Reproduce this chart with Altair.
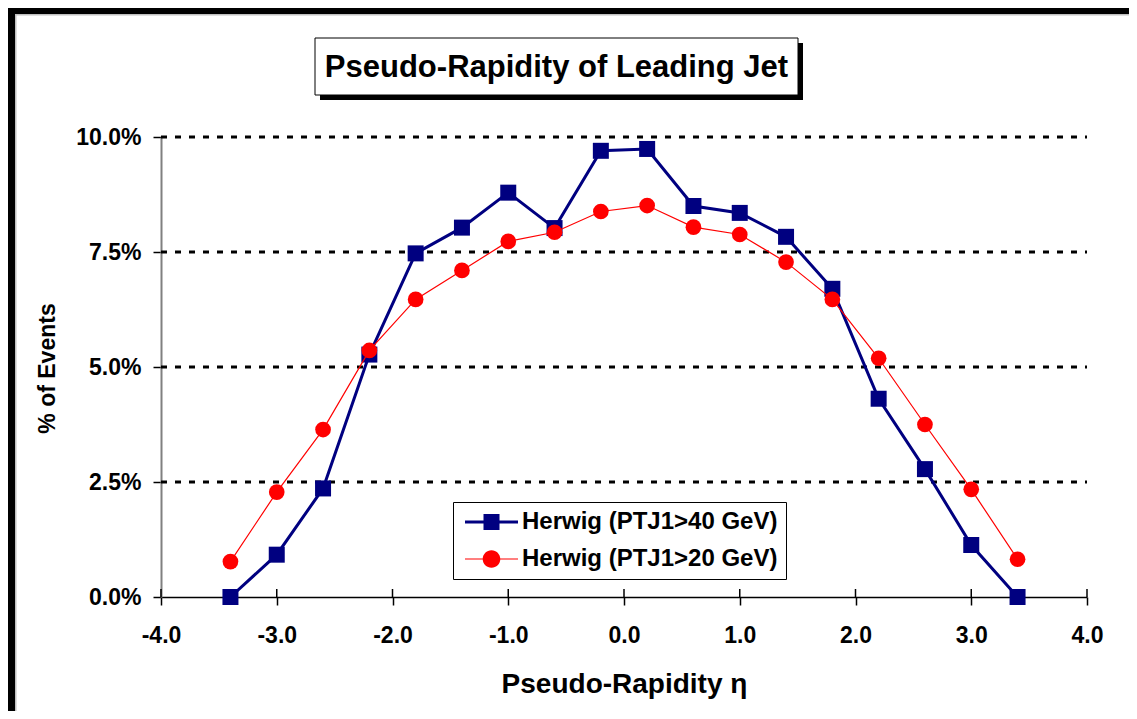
import altair as alt
import pandas as pd

# ---------------- data ----------------
ETA = [-3.4, -3.0, -2.6, -2.2, -1.8, -1.4, -1.0, -0.6, -0.2,
       0.2, 0.6, 1.0, 1.4, 1.8, 2.2, 2.6, 3.0, 3.4]
PT40 = [0.00, 0.92, 2.36, 5.27, 7.47, 8.03, 8.79, 8.02, 9.70,
        9.74, 8.50, 8.35, 7.83, 6.70, 4.31, 2.78, 1.13, 0.00]
PT20 = [0.77, 2.28, 3.64, 5.36, 6.47, 7.10, 7.73, 7.93, 8.38,
        8.51, 8.04, 7.88, 7.28, 6.47, 5.19, 3.75, 2.34, 0.82]
SERIES = ["Herwig (PTJ1>40 GeV)", "Herwig (PTJ1>20 GeV)"]
COLORS = ["#000080", "#FF0000"]
X_TICKS = [-4, -3, -2, -1, 0, 1, 2, 3, 4]
Y_TICKS = [0, 2.5, 5, 7.5, 10]
GRID = [2.5, 5, 7.5, 10]
TITLE = "Pseudo-Rapidity of Leading Jet"
X_TITLE = "Pseudo-Rapidity η"
Y_TITLE = "% of Events"

# ---------------- layout ----------------
W, H = 926, 460
PL, PT, PR, PB = 153, 129, 42, 114
FONT = "Liberation Sans"

df = pd.DataFrame({
    "eta": ETA + ETA,
    "pct": PT40 + PT20,
    "series": [SERIES[0]] * len(ETA) + [SERIES[1]] * len(ETA),
})
grid_df = pd.DataFrame({"g": GRID})
xt_df = pd.DataFrame({"t": X_TICKS})
one = pd.DataFrame({"k": [0]})

xscale = alt.Scale(domain=[-4, 4], nice=False, zero=False)
yscale = alt.Scale(domain=[0, 10], nice=False)

x_axis = alt.Axis(
    values=X_TICKS, title=X_TITLE,
    labelExpr="(datum.value < 0 ? '-' : '') + format(abs(datum.value), '.1f')",
    labelFont=FONT, labelFontSize=23, labelFontWeight="bold", labelColor="black",
    labelPadding=19, labelFlush=False, labelOverlap=False,
    tickSize=8, tickColor="black", tickWidth=1.5,
    domainColor="black", domainWidth=1.5, grid=False,
    titleFont=FONT, titleFontSize=28, titleFontWeight="bold", titleColor="black",
    titleY=95, titleX=W / 2, titleBaseline="alphabetic", titleAlign="center",
)
y_axis = alt.Axis(
    values=Y_TICKS, title=Y_TITLE,
    labelExpr="format(datum.value, '.1f') + '%'",
    labelFont=FONT, labelFontSize=23, labelFontWeight="bold", labelColor="black",
    labelPadding=12, tickSize=8, tickColor="black", tickWidth=1.5,
    domainColor="#808080", domainWidth=2, grid=False,
    titleFont=FONT, titleFontSize=23, titleFontWeight="bold", titleColor="black",
    titleAngle=270, titleX=-114, titleY=231, titleAlign="center", titleBaseline="middle",
)

X = alt.X("eta:Q", scale=xscale, axis=x_axis)
Y = alt.Y("pct:Q", scale=yscale, axis=y_axis)

# ---------------- decorations ----------------
def rect(x, x2, y, y2, **kw):
    return alt.Chart(one).mark_rect(**kw).encode(
        x=alt.value(x), x2=alt.value(x2), y=alt.value(y), y2=alt.value(y2))

frame_left = rect(-PL, -PL + 7, -PT, H + PB, color="black")
frame_top = rect(-PL, W + PR, -PT, -PT + 6, color="black")
frame_left_g = rect(-PL + 7, -PL + 8.5, -PT + 6, H + PB, color="#c0c0c0")
frame_top_g = rect(-PL + 7, W + PR, -PT + 6, -PT + 7.5, color="#c0c0c0")

tb_shadow = rect(159, 642, -94, -37, color="black")
tb_box = rect(154, 637, -99, -42, fill="white", stroke="black", strokeWidth=1)
tb_text = alt.Chart(one).mark_text(
    font=FONT, fontSize=31, fontWeight="bold", color="black",
    align="center", baseline="alphabetic",
).encode(x=alt.value(395.5), y=alt.value(-60), text=alt.value(TITLE))

grid = alt.Chart(grid_df).mark_rule(
    color="black", strokeWidth=3, strokeDash=[6, 8]
).encode(y=alt.Y("g:Q", scale=yscale, axis=y_axis), x=alt.value(0), x2=alt.value(W))

in_ticks = alt.Chart(xt_df).mark_rule(color="black", strokeWidth=1.5).encode(
    x=alt.X("t:Q", scale=xscale, axis=x_axis), y=alt.value(H - 8), y2=alt.value(H))

# ---------------- data layers ----------------
blue = alt.Chart(df).transform_filter(alt.datum.series == SERIES[0])
red = alt.Chart(df).transform_filter(alt.datum.series == SERIES[1])

blue_line = blue.mark_line(color=COLORS[0], strokeWidth=3).encode(x=X, y=Y)
blue_pts = blue.mark_point(shape="square", filled=True, size=256, opacity=1,
                           color=COLORS[0]).encode(x=X, y=Y)
red_line = red.mark_line(color=COLORS[1], strokeWidth=1.2).encode(x=X, y=Y)
red_pts = red.mark_point(shape="circle", filled=True, size=246, opacity=1,
                         color=COLORS[1]).encode(x=X, y=Y)

# legend symbols: marker with a line through it (unit = sqrt(size)/2 = 8px)
SQ = ("M-1,-0.19H1.4V0.19H-1Z M1.3125,-1H3.3125V1H1.3125Z "
      "M3.2,-0.19H5.625V0.19H3.2Z")
CI = ("M-1,-0.075H1.3V0.075H-1Z "
      "M1.2125,0A1.1,1.1,0,1,1,3.4125,0A1.1,1.1,0,1,1,1.2125,0Z "
      "M3.3,-0.075H5.625V0.075H3.3Z")

leg = alt.Legend(
    orient="none", legendX=292, legendY=365, title=None,
    fillColor="white", strokeColor="black", padding=8, rowPadding=13,
    labelFont=FONT, labelFontSize=24, labelFontWeight="bold", labelColor="black",
    labelLimit=400, labelOffset=37, symbolSize=256, symbolStrokeWidth=0,
    symbolOpacity=1, cornerRadius=0,
)
legend_layer = alt.Chart(df).transform_filter("false").mark_point(
    filled=True, size=256, opacity=1
).encode(
    color=alt.Color("series:N", scale=alt.Scale(domain=SERIES, range=COLORS), legend=leg),
    shape=alt.Shape("series:N", scale=alt.Scale(domain=SERIES, range=[SQ, CI]), legend=leg),
)

chart = alt.layer(
    frame_left, frame_top, frame_left_g, frame_top_g,
    tb_shadow, tb_box, tb_text,
    grid, in_ticks,
    blue_line, blue_pts, red_line, red_pts,
    legend_layer,
).properties(
    width=W, height=H,
    padding={"left": PL, "top": PT, "right": PR, "bottom": PB},
    autosize=alt.AutoSizeParams(type="none"),
).configure_view(strokeWidth=0)

chart.save("out.html", embed_options={"renderer": "svg", "actions": False})
